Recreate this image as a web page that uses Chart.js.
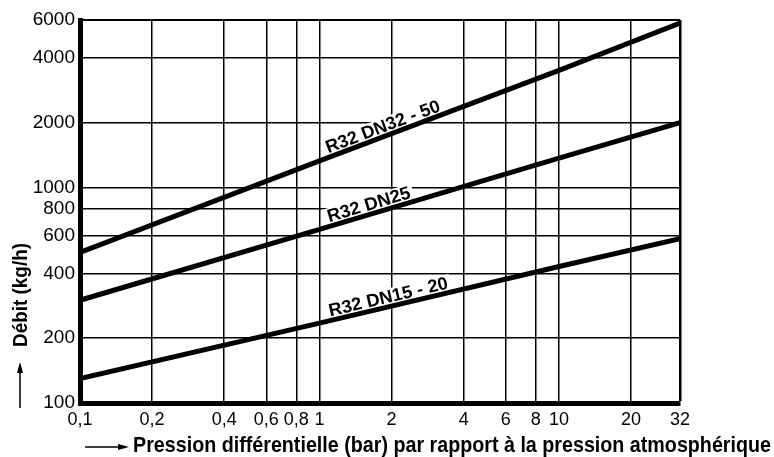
<!DOCTYPE html>
<html lang="fr">
<head>
  <meta charset="UTF-8" />
  <title>Débit R32</title>
  <script src="https://cdn.jsdelivr.net/npm/chart.js"></script>
  <style>
    html, body { margin: 0; padding: 0; background: #fff; }
    #wrap { width: 774px; height: 457px; }
  </style>
</head>
<body>
  <div id="wrap"><canvas id="flowChart" width="774" height="457"></canvas></div>

  <script>
    // values (log-log chart)
    const pressures = [0.1, 1, 10, 32];
    const dn32_50 = [500, 1330, 3500, 5800];
    const dn25 = [300, 640, 1370, 2000];
    const dn15_20 = [130, 235, 430, 580];

    const seriesNames = ["R32 DN32 - 50", "R32 DN25", "R32 DN15 - 20"];
    // where along the curve (bar) each name sits, and how long it is drawn
    const labelAt = [1.9, 1.65, 1.98];
    const labelLen = [121, 86, 122];

    const xTicks = [0.1, 0.2, 0.4, 0.6, 0.8, 1, 2, 4, 6, 8, 10, 20, 32];
    const xTickLabels = ["0,1", "0,2", "0,4", "0,6", "0,8", "1", "2", "4", "6", "8", "10", "20", "32"];
    const yTicks = [100, 200, 400, 600, 800, 1000, 2000, 4000, 6000];
    const yTickLabels = ["100", "200", "400", "600", "800", "1000", "2000", "4000", "6000"];

    const xTitle = "Pression différentielle (bar) par rapport à la pression atmosphérique";
    const yTitle = "Débit (kg/h)";

    const FONT = "'Liberation Sans', Arial, sans-serif";

    function toPoints(values) {
      return pressures.map((p, i) => ({ x: p, y: values[i] }));
    }

    // draw text centred or left-aligned, squeezed to a given width
    function fitText(ctx, text, x, y, width, angle, align) {
      const w = ctx.measureText(text).width;
      ctx.save();
      ctx.translate(x, y);
      ctx.rotate(angle);
      ctx.scale(width / w, 1);
      ctx.textAlign = align;
      ctx.fillText(text, 0, 0);
      ctx.restore();
    }

    function arrowHead(ctx, x, y, dx, dy) {
      // dx,dy = unit direction of the arrow
      const len = 11, half = 3;
      ctx.beginPath();
      ctx.moveTo(x, y);
      ctx.lineTo(x - dx * len - dy * half, y - dy * len + dx * half);
      ctx.lineTo(x - dx * len + dy * half, y - dy * len - dx * half);
      ctx.closePath();
      ctx.fill();
    }

    const curveLabels = {
      id: "curveLabels",
      beforeDatasetsDraw(chart) {
        const ctx = chart.ctx;
        const xs = chart.scales.x, ys = chart.scales.y;
        chart.data.datasets.forEach((ds, i) => {
          const pts = ds.data;
          let k = 0;
          while (k < pts.length - 2 && pts[k + 1].x < labelAt[i]) k++;
          const a = pts[k], b = pts[k + 1];
          const t = (Math.log(labelAt[i]) - Math.log(a.x)) / (Math.log(b.x) - Math.log(a.x));
          const yv = Math.exp(Math.log(a.y) + t * (Math.log(b.y) - Math.log(a.y)));
          const px = xs.getPixelForValue(labelAt[i]);
          const py = ys.getPixelForValue(yv);
          const angle = Math.atan2(ys.getPixelForValue(b.y) - ys.getPixelForValue(a.y),
                                   xs.getPixelForValue(b.x) - xs.getPixelForValue(a.x));
          ctx.save();
          ctx.translate(px, py);
          ctx.rotate(angle);
          ctx.fillStyle = "#fff";
          ctx.fillRect(-labelLen[i] / 2 - 3, -18, labelLen[i] + 6, 16);
          ctx.fillStyle = "#000";
          ctx.font = "bold 18px " + FONT;
          ctx.textBaseline = "alphabetic";
          fitText(ctx, seriesNames[i], 0, -4, labelLen[i], 0, "center");
          ctx.restore();
        });
      },
      afterDraw(chart) {
        const ctx = chart.ctx;
        ctx.save();
        ctx.fillStyle = "#000";
        ctx.strokeStyle = "#000";
        ctx.lineWidth = 1.5;

        // x title with arrow
        ctx.beginPath();
        ctx.moveTo(85, 447);
        ctx.lineTo(122, 447);
        ctx.stroke();
        arrowHead(ctx, 129, 447, 1, 0);
        ctx.font = "bold 22px " + FONT;
        ctx.textBaseline = "alphabetic";
        fitText(ctx, xTitle, 133, 452, 638, 0, "left");

        // y title with arrow
        ctx.beginPath();
        ctx.moveTo(20, 408);
        ctx.lineTo(20, 370);
        ctx.stroke();
        arrowHead(ctx, 20, 362, 0, -1);
        ctx.font = "bold 21px " + FONT;
        ctx.textBaseline = "middle";
        fitText(ctx, yTitle, 21, 295, 104, -Math.PI / 2, "center");
        ctx.restore();
      }
    };

    const lineStyle = { borderColor: "#000", borderWidth: 5, pointRadius: 0, tension: 0, fill: false };

    new Chart(document.getElementById("flowChart"), {
      type: "line",
      data: {
        datasets: [
          { label: seriesNames[0], data: toPoints(dn32_50), ...lineStyle },
          { label: seriesNames[1], data: toPoints(dn25), ...lineStyle },
          { label: seriesNames[2], data: toPoints(dn15_20), ...lineStyle },
        ],
      },
      options: {
        responsive: false,
        animation: false,
        layout: { padding: { top: 20, right: 94, left: 0, bottom: 0 } },
        plugins: { legend: { display: false }, tooltip: { enabled: false } },
        scales: {
          x: {
            type: "logarithmic",
            min: 0.1,
            max: 32,
            afterBuildTicks: (scale) => { scale.ticks = xTicks.map(v => ({ value: v })); },
            afterFit: (scale) => { scale.height = 54; },
            ticks: {
              color: "#000",
              font: { family: FONT, size: 18 },
              padding: 6,
              maxRotation: 0,
              autoSkip: false,
              callback: (v, i) => xTickLabels[i],
            },
            grid: {
              color: "#000",
              lineWidth: (c) => (c.tick && c.tick.value === 32 ? 2.5 : 1.5),
              drawTicks: false,
            },
            border: { color: "#000", width: 5 },
          },
          y: {
            type: "logarithmic",
            min: 100,
            max: 6000,
            afterBuildTicks: (scale) => { scale.ticks = yTicks.map(v => ({ value: v })); },
            afterFit: (scale) => { scale.width = 80; },
            ticks: {
              color: "#000",
              font: { family: FONT, size: 19 },
              padding: 5,
              autoSkip: false,
              callback: (v, i) => yTickLabels[i],
            },
            grid: {
              color: "#000",
              lineWidth: (c) => (c.tick && c.tick.value === 6000 ? 2 : 1.5),
              drawTicks: false,
            },
            border: { color: "#000", width: 5 },
          },
        },
      },
      plugins: [curveLabels],
    });
  </script>
</body>
</html>
